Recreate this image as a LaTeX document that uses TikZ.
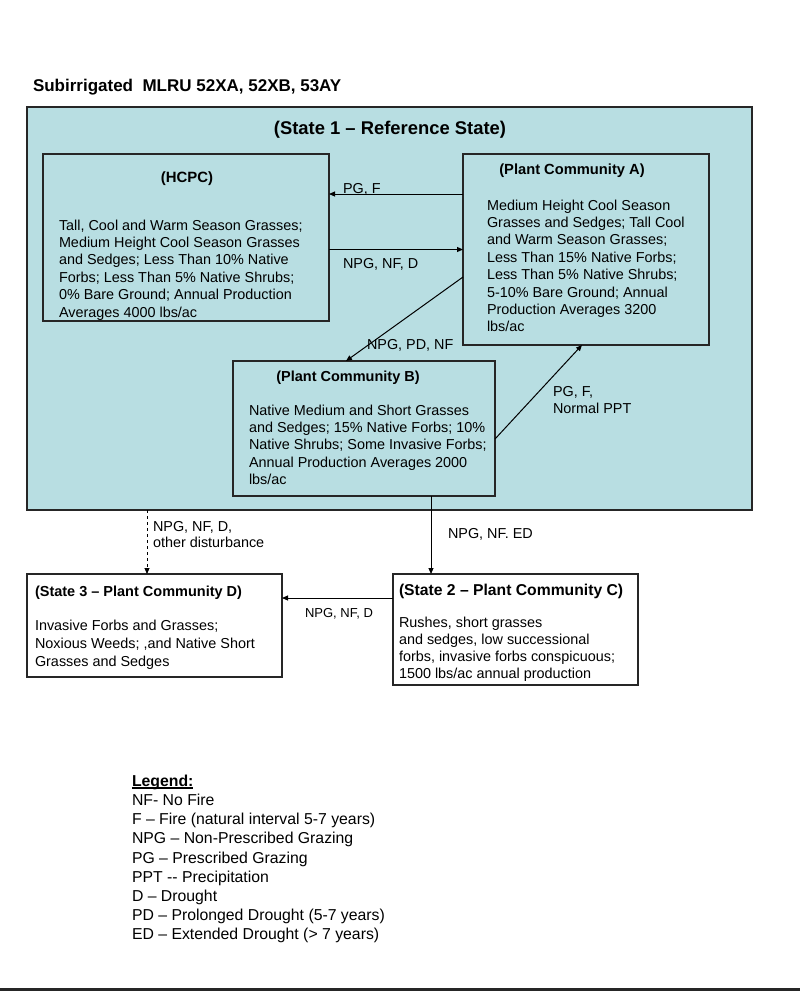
\documentclass[tikz,border=0pt]{standalone}
\usepackage{fontspec}
\setmainfont{Liberation Sans}
\usepackage{tikz}
\tikzset{
  every node/.style = {
    inner sep = 0pt,
    outer sep = 0pt
  }
}
\usetikzlibrary{
arrows.meta,
positioning
}
\definecolor{stateblue}{RGB}{184,222,226}

\begin{document}
\begin{tikzpicture}[
        x = 1pt,
        y = -1pt,
        state box/.style={
          draw = black!85,
          line width = 1.2pt,
          anchor = north west,
        },
        box title/.style={
          font = \bfseries\fontsize{14.7}{17}\selectfont,
        },
        body text/.style={
          font = \fontsize{14.4}{17.4}\selectfont,
          align = left,
          anchor = north west,
        },
        trans label/.style={
          font = \fontsize{14.4}{16.5}\selectfont,
          align = left,
        },
        trans arrow/.style={
          line width = 1pt,
          -{Triangle[length=6pt,width=5pt]},
        },
        ]
        \useasboundingbox (0,0) rectangle (800,991);
        % heading
        \node [anchor=base west, font=\bfseries\fontsize{17}{20}\selectfont, name=node-heading]
        at (33,91) {Subirrigated\ \ MLRU 52XA, 52XB, 53AY};
        % state 1 and its communities
        \node [state box, fill=stateblue, minimum width=725pt, minimum height=403pt, name=box-state1]
        at (27,107) {};
        \node [anchor=base, box title, font=\bfseries\fontsize{18.4}{20}\selectfont, name=title-state1]
        at (390,134.5) {(State 1 – Reference State)};
        \node [state box, fill=stateblue, minimum width=286pt, minimum height=167pt, name=box-hcpc]
        at (43,154) {};
        \node [anchor=base, box title, font=\bfseries\fontsize{14.9}{17}\selectfont, name=title-hcpc]
        at (187,182.3) {(HCPC)};
        \node [body text, name=text-hcpc] at (59,219.7) {%
          Tall, Cool and Warm Season Grasses;\\
          Medium Height Cool Season Grasses\\
          and Sedges; Less Than 10\% Native\\
          Forbs; Less Than 5\% Native Shrubs;\\
          0\% Bare Ground; Annual Production\\
          Averages 4000 lbs/ac};
        \node [state box, fill=stateblue, minimum width=246pt, minimum height=191pt, name=box-a]
        at (463,154) {};
        \node [anchor=base, box title, name=title-a]
        at (572,174.3) {(Plant Community A)};
        \node [body text, name=text-a] at (487,199.7) {%
          Medium Height Cool Season\\
          Grasses and Sedges; Tall Cool\\
          and Warm Season Grasses;\\
          Less Than 15\% Native Forbs;\\
          Less Than 5\% Native Shrubs;\\
          5-10\% Bare Ground; Annual\\
          Production Averages 3200\\
          lbs/ac};
        \node [state box, fill=stateblue, minimum width=262pt, minimum height=135pt, name=box-b]
        at (233,361) {};
        \node [anchor=base, box title, font=\bfseries\fontsize{14.5}{17}\selectfont, name=title-b]
        at (348,381.2) {(Plant Community B)};
        \node [body text, name=text-b] at (249,404.7) {%
          Native Medium and Short Grasses\\
          and Sedges; 15\% Native Forbs; 10\%\\
          Native Shrubs; Some Invasive Forbs;\\
          Annual Production Averages 2000\\
          lbs/ac};
        % states 2 and 3
        \node [state box, fill=white, minimum width=255pt, minimum height=103pt, name=box-s3]
        at (27,574) {};
        \node [anchor=base west, box title, font=\bfseries\fontsize{14.5}{17}\selectfont, name=title-s3]
        at (35,596.2) {(State 3 – Plant Community D)};
        \node [body text, font=\fontsize{14.4}{18}\selectfont, name=text-s3] at (35,619.7) {%
          Invasive Forbs and Grasses;\\
          Noxious Weeds; ,and Native Short\\
          Grasses and Sedges};
        \node [state box, fill=white, minimum width=245pt, minimum height=111pt, name=box-s2]
        at (393,574) {};
        \node [anchor=base west, box title, font=\bfseries\fontsize{15.7}{17}\selectfont, name=title-s2]
        at (399,595.6) {(State 2 – Plant Community C)};
        \node [body text, font=\fontsize{14.4}{17}\selectfont, name=text-s2] at (399,616.7) {%
          Rushes, short grasses\\
          and sedges, low successional\\
          forbs, invasive forbs conspicuous;\\
          1500 lbs/ac annual production};
        % transitions
        \draw [trans arrow] ([yshift=-40pt]box-a.north west) -- ([yshift=-40pt]box-hcpc.north east);
        \node [trans label, anchor=base west, name=label-pgf] at (343,193) {PG, F};
        \draw [trans arrow] (box-hcpc.east |- box-a.west) -- (box-a.west);
        \node [trans label, anchor=base west, name=label-npgnfd] at (343,268.2) {NPG, NF, D};
        \draw [trans arrow] ([yshift=-123pt]box-a.north west) -- ([xshift=113pt]box-b.north west);
        \node [trans label, anchor=base west, name=label-npgpdnf] at (367,349.2) {NPG, PD, NF};
        \draw [trans arrow] ([yshift=-78pt]box-b.north east) -- ([xshift=119pt]box-a.south west);
        \node [trans label, anchor=north west, font=\fontsize{14.4}{17}\selectfont, name=label-pgfppt]
        at (553,386.8) {PG, F,\\Normal PPT};
        \draw [trans arrow, dash pattern=on 3pt off 3pt]
        ([xshift=120pt]box-state1.south west) -- ([xshift=120pt]box-state1.south west |- box-s3.north);
        \node [trans label, anchor=north west, font=\fontsize{14.4}{16}\selectfont, name=label-dist]
        at (153,521.8) {NPG, NF, D,\\other disturbance};
        \draw [trans arrow] ([xshift=198pt]box-b.south west) -- ([xshift=198pt]box-b.south west |- box-s2.north);
        \node [trans label, anchor=base west, name=label-npgnfed] at (448,538.2) {NPG, NF. ED};
        \draw [trans arrow] ([yshift=-24pt]box-s2.north west) -- ([yshift=-24pt]box-s2.north west -| box-s3.east);
        \node [trans label, anchor=base west, font=\fontsize{13}{15}\selectfont, name=label-s2s3]
        at (305,617.7) {NPG, NF, D};
        % legend
        \node [body text, font=\fontsize{15.8}{19.1}\selectfont, name=node-legend] at (132,775.2) {%
          \rlap{\rule[-2pt]{61pt}{1.2pt}}\textbf{Legend:}\\
          NF- No Fire\\
          F – Fire (natural interval 5-7 years)\\
          NPG – Non-Prescribed Grazing\\
          PG – Prescribed Grazing\\
          PPT -{}- Precipitation\\
          D – Drought\\
          PD – Prolonged Drought (5-7 years)\\
          ED – Extended Drought (> 7 years)};
        \draw [line width=3pt, black!85] (0,989) -- (800,989);
      \end{tikzpicture}
\end{document}
